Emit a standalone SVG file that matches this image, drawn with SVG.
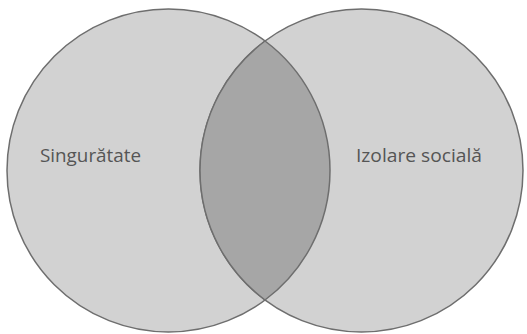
<svg xmlns="http://www.w3.org/2000/svg" width="527" height="334" viewBox="0 0 527 334">
<style>
.c{fill:#d2d2d2;stroke:#6e6e6e;stroke-width:1.5}
.lens{fill:#a6a6a6;stroke:none}
.edge{fill:none;stroke:#6e6e6e;stroke-width:1.5}
.t{font-family:"Open Sans","Noto Sans",sans-serif;font-size:19px;fill:#555}
</style>
<rect width="527" height="334" fill="#fff"/>
<g id="left">
<circle class="c" cx="168.5" cy="170.5" r="161.5"/>
</g>
<g id="right">
<circle class="c" cx="361.5" cy="170.5" r="161.5"/>
</g>
<g id="overlap">
<path class="lens" d="M265 41 A161.5 161.5 0 0 1 265 300 A161.5 161.5 0 0 1 265 41 Z"/>
<path class="edge" d="M265 41 A161.5 161.5 0 0 1 265 300 A161.5 161.5 0 0 1 265 41 Z"/>
</g>
<g id="labels">
<text class="t" x="40" y="162" textLength="101" lengthAdjust="spacingAndGlyphs">Singurătate</text>
<text class="t" x="356" y="162" textLength="126" lengthAdjust="spacingAndGlyphs">Izolare socială</text>
</g>
</svg>
